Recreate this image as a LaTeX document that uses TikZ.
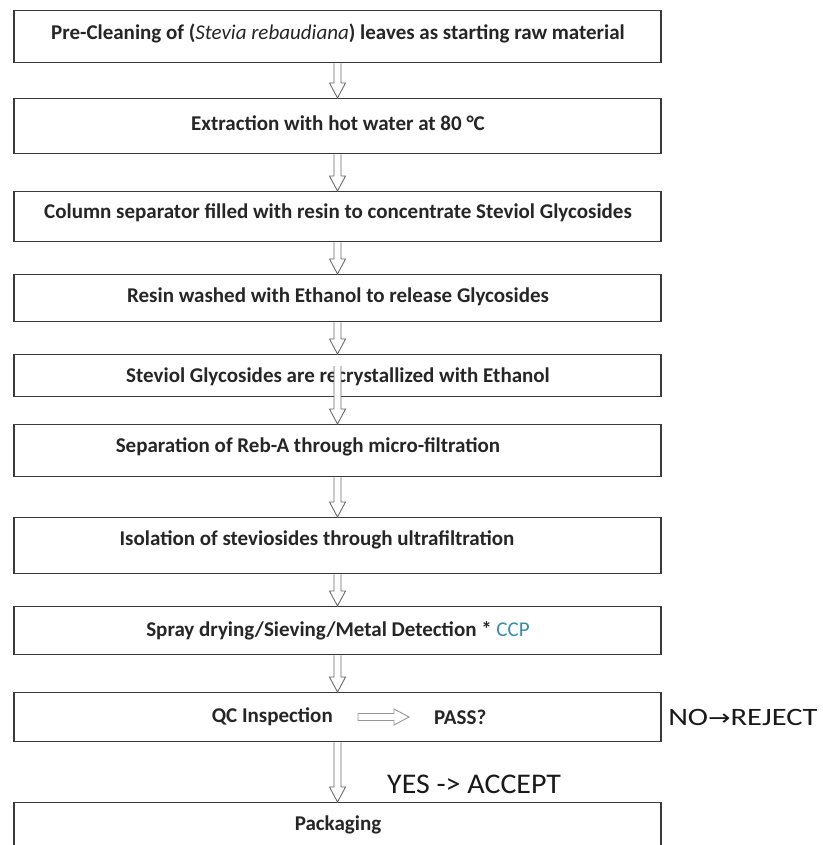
\documentclass[tikz,border=0pt]{standalone}
\usepackage{fontspec}
\setmainfont{Carlito}
\newfontfamily\symfont{DejaVu Sans}
\usetikzlibrary{calc}
\definecolor{boxline}{HTML}{3A3A3A}
\definecolor{arrline}{HTML}{6A6A6A}
\definecolor{ccpcol}{HTML}{3590A8}
\begin{document}
\begin{tikzpicture}[x=1pt,y=-1pt,
  stepbox/.style={draw=boxline, line width=1.3pt, minimum width=647pt, anchor=north, inner sep=0pt},
  steptext/.style={font=\fontsize{21}{24}\selectfont\bfseries, text=black!85, inner sep=0pt},
  downarr/.style={draw=arrline, line width=0.9pt, fill=white, to path={let \p1=(\tikztostart), \p2=(\tikztotarget) in
     (\x1-3.5pt,\y1) -- (\x1-3.5pt,\y2+15pt) -- (\x1-8pt,\y2+15pt) -- (\x1,\y2) -- (\x1+8pt,\y2+15pt) -- (\x1+3.5pt,\y2+15pt) -- (\x1+3.5pt,\y1)}},
  rightarr/.style={draw=arrline!70, line width=0.9pt, fill=white, to path={let \p1=(\tikztostart), \p2=(\tikztotarget) in
     (\x1,\y1+3.5pt) -- (\x2-15pt,\y1+3.5pt) -- (\x2-15pt,\y1+8pt) -- (\x2,\y1) -- (\x2-15pt,\y1-8pt) -- (\x2-15pt,\y1-3.5pt) -- (\x1,\y1-3.5pt) -- cycle}},
  sidetext/.style={text=black!90, inner sep=0pt}
]
\useasboundingbox (0,0) rectangle (822,845);
\fill[white] (0,0) rectangle (822,845);
\begin{scope}
\clip (0,0) rectangle (822,845);
% boxes
\node[stepbox, minimum height=52pt] (b1) at (337.5,10) {};
\node[stepbox, minimum height=55pt] (b2) at (337.5,98) {};
\node[stepbox, minimum height=50pt] (b3) at (337.5,191) {};
\node[stepbox, minimum height=47pt] (b4) at (337.5,274) {};
\node[stepbox, minimum height=42pt] (b5) at (337.5,354) {};
\node[stepbox, minimum height=52pt] (b6) at (337.5,424) {};
\node[stepbox, minimum height=56pt] (b7) at (337.5,517) {};
\node[stepbox, minimum height=48pt] (b8) at (337.5,606) {};
\node[stepbox, minimum height=49pt] (b9) at (337.5,692) {};
\node[stepbox, minimum height=60pt] (b10) at (337.5,802) {};
\end{scope}
% texts
\node[steptext] (t1) at (338,33) {Pre-Cleaning of (\textit{\mdseries Stevia rebaudiana}) leaves as starting raw material};
\node[steptext] (t2) at (338,123) {Extraction with hot water at 80 °C};
\node[steptext] (t3) at (338,213) {Column separator filled with resin to concentrate Steviol Glycosides};
\node[steptext] (t4) at (338,297) {Resin washed with Ethanol to release Glycosides};
\node[steptext] (t5) at (338,377) {Steviol Glycosides are recrystallized with Ethanol};
\node[steptext] (t6) at (308,447) {Separation of Reb-A through micro-filtration};
\node[steptext] (t7) at (317,540) {Isolation of steviosides through ultrafiltration};
\node[steptext] (t8) at (338,631) {Spray drying/Sieving/Metal Detection * \textcolor{ccpcol}{\mdseries CCP}};
\node[steptext, anchor=east] (qc) at (333,717) {QC Inspection};
\node[steptext, anchor=west] (pass) at (434,717) {PASS?};
\node[steptext] (t10) at (338,825) {Packaging};
% arrows
\path (b1.south) edge[downarr] (b2.north);
\path (b2.south) edge[downarr] (b3.north);
\path (b3.south) edge[downarr] (b4.north);
\path (b4.south) edge[downarr] (b5.north);
\path ([yshift=-12pt]b5.north) edge[downarr] (b6.north);
\path (b6.south) edge[downarr] (b7.north);
\path (b7.south) edge[downarr] (b8.north);
\path (b8.south) edge[downarr] (b9.north);
\path (b9.south) edge[downarr] (b10.north);
\path ([xshift=25pt]qc.east) edge[rightarr] ([xshift=-25pt]pass.west);
% side labels
\node[sidetext, anchor=west, xscale=1.22, font=\fontsize{25}{28}\selectfont] (rej) at (668,717) {NO{\symfont\fontsize{22}{26}\selectfont →}REJECT};
\node[sidetext, anchor=west, xscale=1.05, font=\fontsize{28.5}{32}\selectfont] (acc) at (387,784) {YES -> ACCEPT};
\end{tikzpicture}
\end{document}
